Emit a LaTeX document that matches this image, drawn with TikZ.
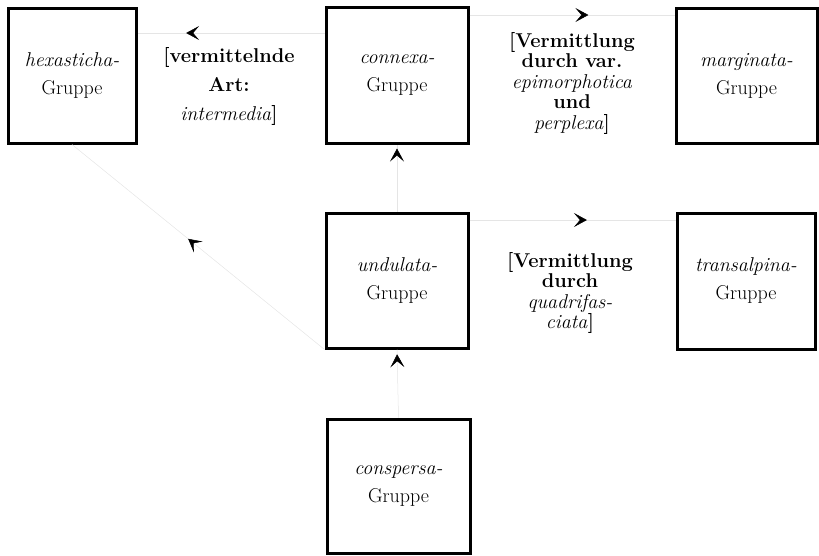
\documentclass[tikz,border=0pt]{standalone}
\usetikzlibrary{arrows.meta,decorations.markings}
\begin{document}
\begin{tikzpicture}[x=1pt,y=-1pt,
  box/.style={draw=black, line width=3pt, inner sep=0pt, align=center,
    font=\fontsize{20}{28}\selectfont},
  lbl/.style={align=center, inner sep=0pt, font=\bfseries\fontsize{20}{20.5}\selectfont},
  conn/.style={draw=black!10, line width=0.5pt},
  midarrow/.style={postaction={decorate}, decoration={markings,
    mark=at position #1 with {\arrow{Stealth[length=13pt,width=14pt,inset=6pt,color=black]}}}}
]
\useasboundingbox (0,0) rectangle (819,555);

% boxes
\node[box, minimum width=128pt, minimum height=135pt] (hexasticha) at (72,75.5)
  {\itshape hexasticha-\\Gruppe};
\node[box, minimum width=142pt, minimum height=136pt] (connexa) at (397,75)
  {\itshape connexa-\\Gruppe};
\node[box, minimum width=141pt, minimum height=135pt] (marginata) at (746.5,75.5)
  {\itshape marginata-\\Gruppe};
\node[box, minimum width=142pt, minimum height=135pt] (undulata) at (397,280.5)
  {\itshape undulata-\\Gruppe};
\node[box, minimum width=138pt, minimum height=136pt] (transalpina) at (746,281)
  {\itshape transalpina-\\Gruppe};
\node[box, minimum width=143pt, minimum height=134pt] (conspersa) at (398.5,486)
  {\itshape conspersa-\\Gruppe};

% labels
\node[lbl, font=\bfseries\fontsize{20}{29}\selectfont] (lab1) at (229,86)
  {[vermittelnde\\Art:\\\textnormal{\itshape intermedia}]};
\node[lbl] (lab2) at (572,83)
  {[Vermittlung\\durch var.\\\textnormal{\itshape epimorphotica}\\und\\\textnormal{\itshape perplexa}]};
\node[lbl] (lab3) at (570,293)
  {[Vermittlung\\durch\\\textnormal{\itshape quadrifas-}\\\textnormal{\itshape ciata}]};

% connector levels
\coordinate (y1) at (0,33);
\coordinate (y2) at (0,15);
\coordinate (y5) at (0,220);

% connectors (faint in the reference, arrowheads prominent)
\draw[conn, midarrow=0.74] (connexa.west |- y1) -- (hexasticha.east |- y1);
\draw[conn, midarrow=0.58] (connexa.east |- y2) -- (marginata.west |- y2);
\draw[conn, midarrow=0.94] (undulata.north) -- (connexa.south);
\draw[conn, midarrow=0.54] (undulata.south west) -- (hexasticha.south);
\draw[conn, midarrow=0.57] (undulata.east |- y5) -- (transalpina.west |- y5);
\draw[conn, midarrow=0.93] (conspersa.north) -- (undulata.south);
\end{tikzpicture}
\end{document}
